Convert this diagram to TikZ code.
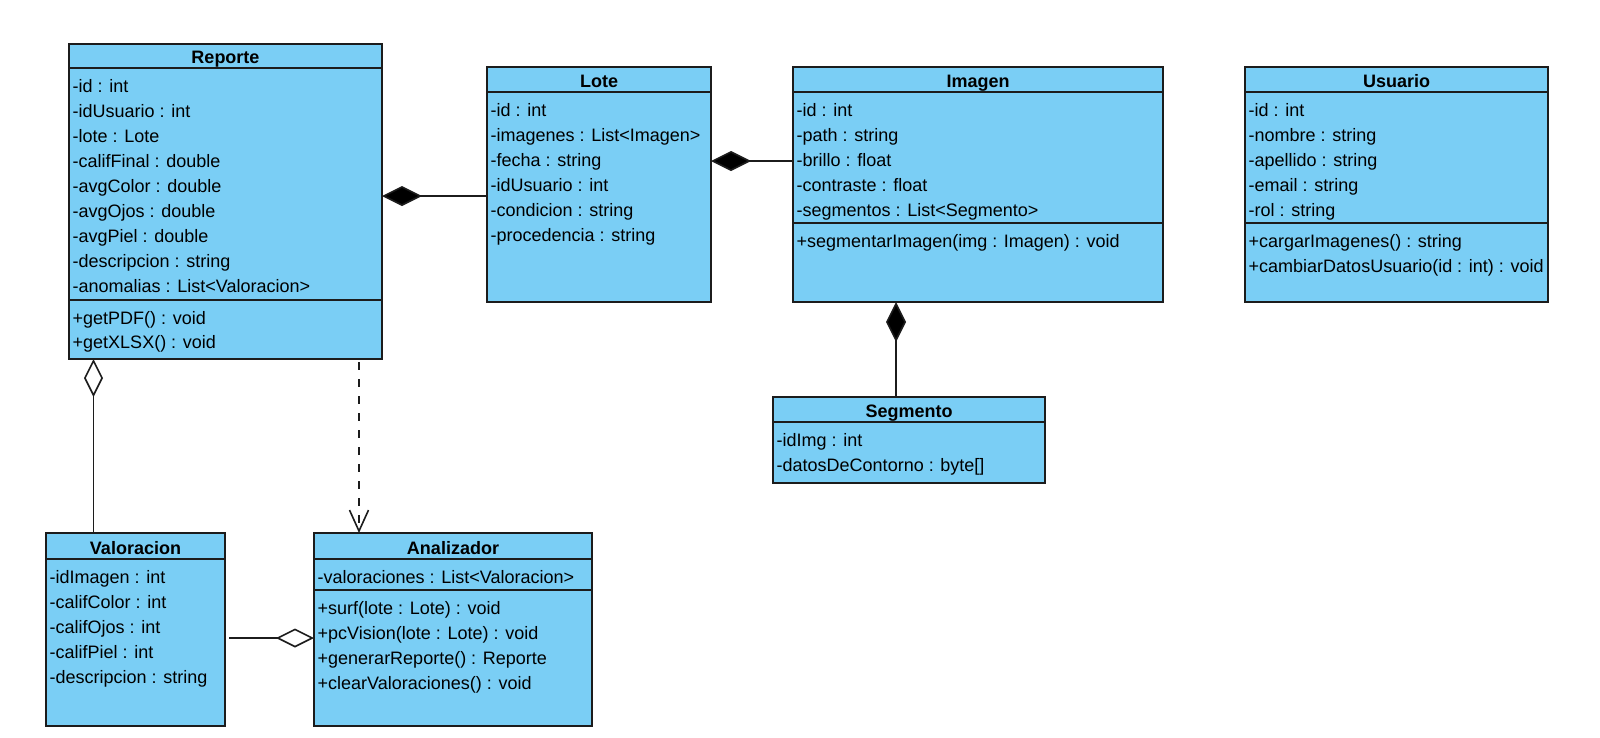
\documentclass[tikz,border=0pt]{standalone}
\usepackage{fontspec}
\setmainfont{Liberation Sans}
\usetikzlibrary{arrows.meta}
\definecolor{classfill}{RGB}{122,206,245}
\definecolor{edgeink}{RGB}{28,28,28}

% Frame of a UML class: name, left, top, right, bottom, y of the title rule
\newcommand\classframe[6]{%
  \node[classbox, minimum width={(#4-#2)*1pt}, minimum height={(#5-#3)*1pt}] (#1) at (#2,#3) {};
  \draw[rule] (#2,#6) -- (#4,#6);
}

\begin{document}
\begin{tikzpicture}[x=1pt,y=-1pt,
  classbox/.style={draw=edgeink, line width=1.6pt, fill=classfill, inner sep=0pt, outer sep=0pt, anchor=north west},
  rule/.style={draw=edgeink, line width=1.6pt},
  member/.style={anchor=base west, inner sep=0pt, font=\fontsize{18}{22}\selectfont},
  classtitle/.style={anchor=base, inner sep=0pt, font=\fontsize{18}{22}\selectfont\bfseries},
  conn/.style={draw=edgeink, line width=1.6pt},
  composition/.style={conn, -{Diamond[length=40pt,width=20pt,fill=black]}},
  aggregation/.style={conn, -{Diamond[open,length=38pt,width=19pt]}},
  dependency/.style={conn, dash pattern=on 8pt off 9pt, -{Straight Barb[length=21pt,width=19pt]}}
]
\useasboundingbox[fill=white] (0,0) rectangle (1600,737);

% ---------- Reporte ----------
\classframe{rep}{69}{44}{382}{359}{68}
\draw[rule] (69,300) -- (382,300);
\node[classtitle] (rep-t) at (225.5,63.5) {Reporte};
\foreach \t [count=\i] in {{-id : int},{-idUsuario : int},{-lote : Lote},{-califFinal : double},{-avgColor : double},{-avgOjos : double},{-avgPiel : double},{-descripcion : string},{-anomalias : List<Valoracion>}}
  \node[member] (rep-a\i) at (72.5,{92+25*(\i-1)}) {\t};
\foreach \t [count=\i] in {{+getPDF() : void},{+getXLSX() : void}}
  \node[member] (rep-m\i) at (72.5,{324.5+24*(\i-1)}) {\t};

% ---------- Lote ----------
\classframe{lote}{487}{67}{711}{302}{92}
\node[classtitle] (lote-t) at (599,87.5) {Lote};
\foreach \t [count=\i] in {{-id : int},{-imagenes : List<Imagen>},{-fecha : string},{-idUsuario : int},{-condicion : string},{-procedencia : string}}
  \node[member] (lote-a\i) at (490.5,{116+25*(\i-1)}) {\t};

% ---------- Imagen ----------
\classframe{img}{793}{67}{1163}{302}{92}
\draw[rule] (793,223) -- (1163,223);
\node[classtitle] (img-t) at (978,87.5) {Imagen};
\foreach \t [count=\i] in {{-id : int},{-path : string},{-brillo : float},{-contraste : float},{-segmentos : List<Segmento>}}
  \node[member] (img-a\i) at (796.5,{116+25*(\i-1)}) {\t};
\node[member] (img-m1) at (796.5,247.5) {+segmentarImagen(img : Imagen) : void};

% ---------- Usuario ----------
\classframe{usr}{1245}{67}{1548}{302}{92}
\draw[rule] (1245,223) -- (1548,223);
\node[classtitle] (usr-t) at (1396.5,87.5) {Usuario};
\foreach \t [count=\i] in {{-id : int},{-nombre : string},{-apellido : string},{-email : string},{-rol : string}}
  \node[member] (usr-a\i) at (1248.5,{116+25*(\i-1)}) {\t};
\foreach \t [count=\i] in {{+cargarImagenes() : string},{+cambiarDatosUsuario(id : int) : void}}
  \node[member] (usr-m\i) at (1248.5,{247.5+25*(\i-1)}) {\t};

% ---------- Segmento ----------
\classframe{seg}{773}{397}{1045}{483}{422}
\node[classtitle] (seg-t) at (909,417.5) {Segmento};
\foreach \t [count=\i] in {{-idImg : int},{-datosDeContorno : byte[]}}
  \node[member] (seg-a\i) at (776.5,{446+25*(\i-1)}) {\t};

% ---------- Valoracion ----------
\classframe{val}{46}{533}{225}{726}{559}
\node[classtitle] (val-t) at (135.5,554.5) {Valoracion};
\foreach \t [count=\i] in {{-idImagen : int},{-califColor : int},{-califOjos : int},{-califPiel : int},{-descripcion : string}}
  \node[member] (val-a\i) at (49.5,{583+25*(\i-1)}) {\t};

% ---------- Analizador ----------
\classframe{ana}{314}{533}{592}{726}{559}
\draw[rule] (314,590) -- (592,590);
\node[classtitle] (ana-t) at (453,554.5) {Analizador};
\node[member] (ana-a1) at (317.5,583) {-valoraciones : List<Valoracion>};
\foreach \t [count=\i] in {{+surf(lote : Lote) : void},{+pcVision(lote : Lote) : void},{+generarReporte() : Reporte},{+clearValoraciones() : void}}
  \node[member] (ana-m\i) at (317.5,{614.5+25*(\i-1)}) {\t};

% ---------- Relations ----------
\draw[composition] (lote.west |- 0,196) -- (rep.east |- 0,196);
\draw[composition] (img.west |- 0,161) -- (lote.east |- 0,161);
\draw[composition] (seg.north -| 896,0) -- (img.south -| 896,0);
\draw[aggregation] (val.north -| 93.5,0) -- (rep.south -| 93.5,0);
\draw[aggregation, shorten <=4pt] (val.east |- 0,638) -- (ana.west |- 0,638);
\draw[dependency, shorten <=3pt] (rep.south -| 359,0) -- (ana.north -| 359,0);
\end{tikzpicture}
\end{document}
